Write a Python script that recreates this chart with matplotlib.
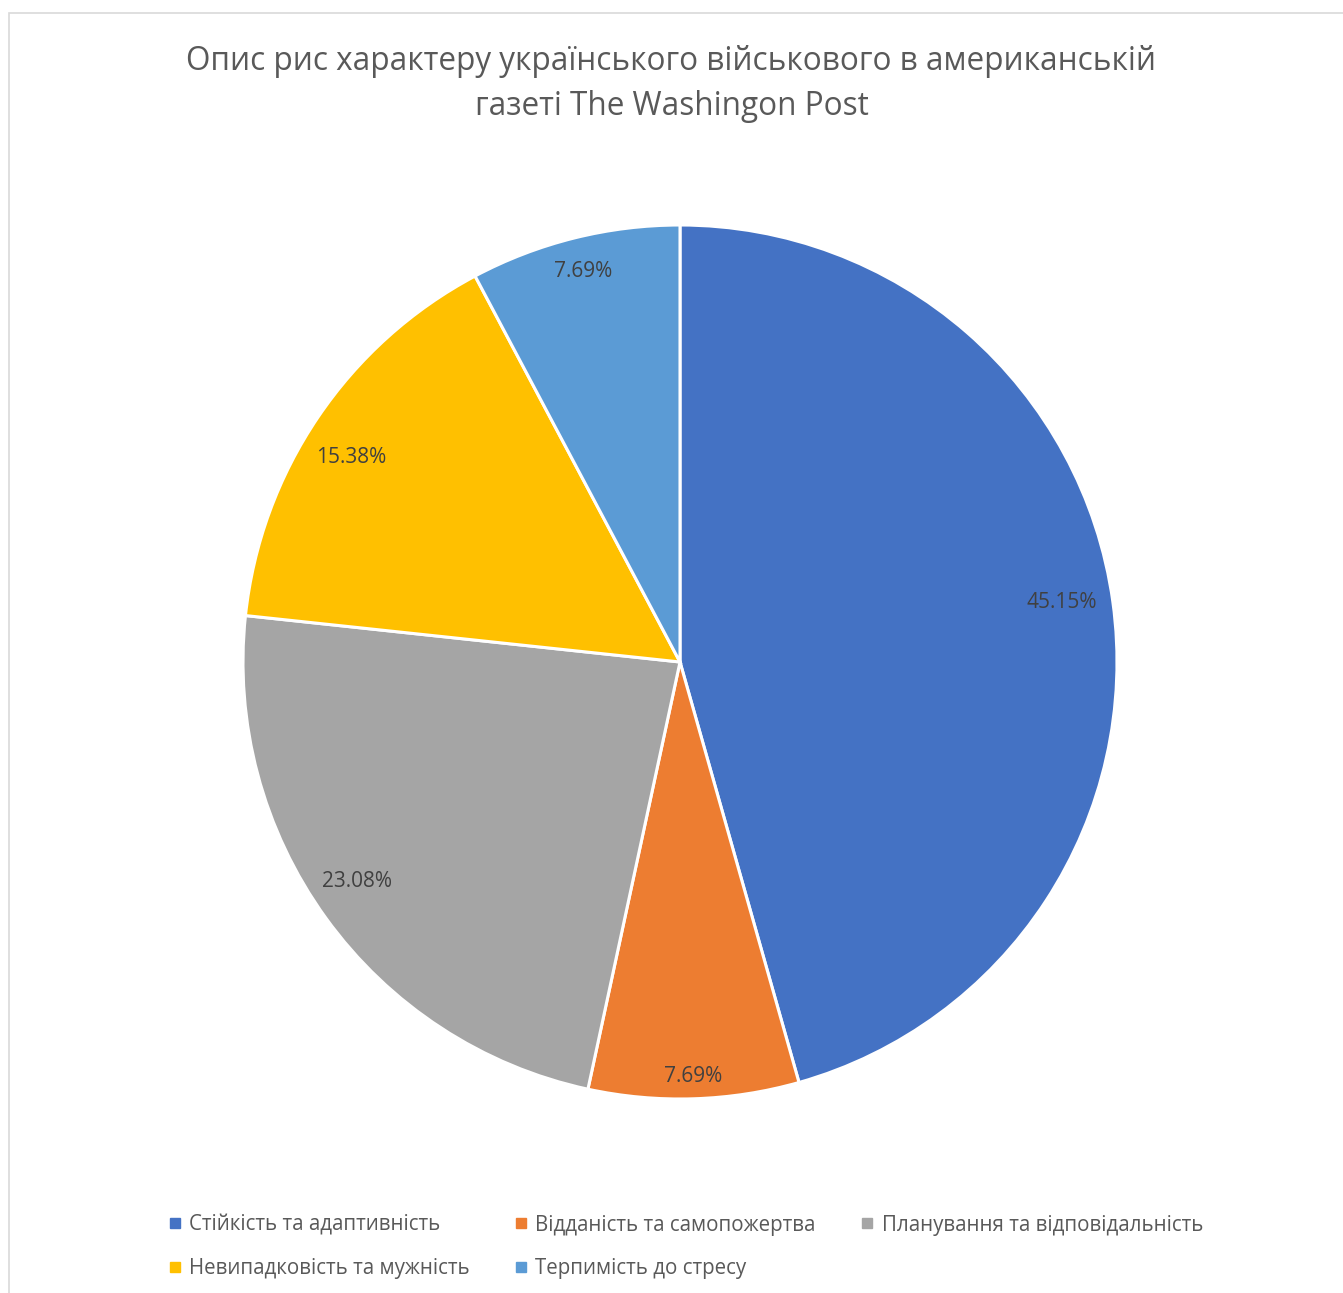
import matplotlib.pyplot as plt
from matplotlib.lines import Line2D
from matplotlib.patches import Rectangle
import numpy as np

plt.rcParams['font.family'] = ['Open Sans', 'DejaVu Sans']

title = "Опис рис характеру українського військового в американській\nгазеті The Washingon Post"
categories = ["Стійкість та адаптивність", "Відданість та самопожертва",
              "Планування та відповідальність", "Невипадковість та мужність",
              "Терпимість до стресу"]
values = [45.15, 7.69, 23.08, 15.38, 7.69]
value_labels = ["45.15%", "7.69%", "23.08%", "15.38%", "7.69%"]
colors = ["#4472C4", "#ED7D31", "#A5A5A5", "#FFC000", "#5B9BD5"]
# label placement: distance from centre and small angle nudge (degrees)
label_dist = [0.885, 0.95, 0.894, 0.886, 0.92]
label_nudge = [1.0, 0.0, -1.6, 2.2, 0.0]

W, H = 1343, 1293
fig = plt.figure(figsize=(W / 100, H / 100), dpi=100)

# chart border
fig.patches.append(Rectangle((9 / W, -0.01), 1.02, 1 - 13 / H + 0.01, transform=fig.transFigure,
                             fill=False, edgecolor="#D9D9D9", linewidth=1.2))

cx, cy, r = 680, 662, 437
ax = fig.add_axes([(cx - r) / W, (H - cy - r) / H, 2 * r / W, 2 * r / H])
wedges, _ = ax.pie(values, colors=colors, startangle=90, counterclock=False, radius=1,
                   wedgeprops=dict(edgecolor="white", linewidth=2.2))
for w, lab, d, n in zip(wedges, value_labels, label_dist, label_nudge):
    ang = np.deg2rad((w.theta1 + w.theta2) / 2 + n)
    ax.text(d * np.cos(ang), d * np.sin(ang), lab, ha="center", va="center",
            fontsize=15, color="#404040")
ax.set_xlim(-1, 1)
ax.set_ylim(-1, 1)
ax.set_aspect("equal")
ax.axis("off")

fig.text(0.5, 1 - 84 / H, title, ha="center", va="center", fontsize=22.7,
         color="#595959", linespacing=1.5)

# legend is filled column by column, so reorder to read row by row
order = [0, 3, 1, 4, 2]
handles = [Line2D([], [], marker="s", linestyle="", markersize=7, color=colors[i]) for i in order]
leg = fig.legend(handles, [categories[i] for i in order], ncol=3, loc="upper left",
                 bbox_to_anchor=(150 / W, 1 - 1196 / H), frameon=False,
                 fontsize=14.8, handlelength=0.6, handletextpad=0.4,
                 columnspacing=2.2, labelspacing=1.1, labelcolor="#595959")

fig.savefig("out.png", dpi=100)
